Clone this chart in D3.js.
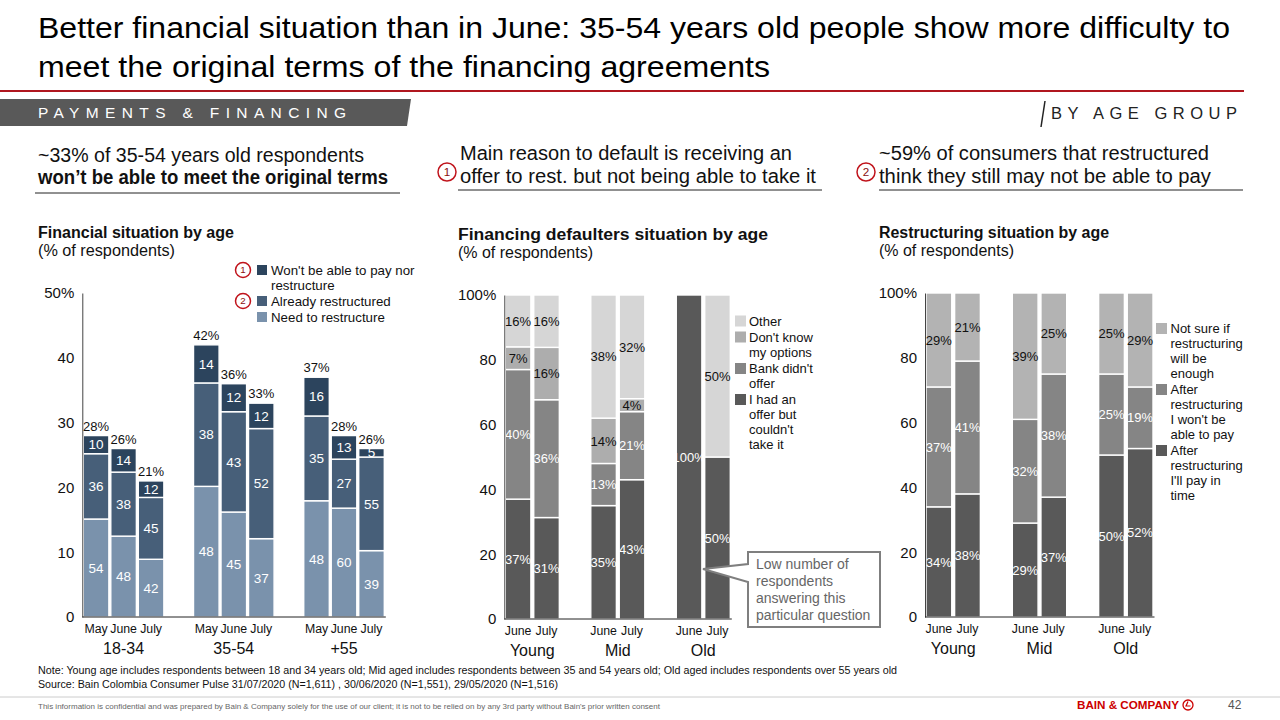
<!DOCTYPE html>
<html><head><meta charset="utf-8">
<script src="https://cdn.jsdelivr.net/npm/d3@7/dist/d3.min.js"></script>
<style>
body{margin:0;background:#fff;}
svg{display:block;font-family:"Liberation Sans",Arial,sans-serif;}
</style></head>
<body>
<svg id="c" width="1280" height="720"></svg>
<script>
// ---------- DATA ----------
const titleLines = ["Better financial situation than in June: 35-54 years old people show more difficulty to",
                    "meet the original terms of the financing agreements"];
// Left chart: Financial situation by age
const leftGroups = ["18-34", "35-54", "+55"];
const leftMonths = ["May", "June", "July"];
const leftTotals = [[28, 26, 21], [42, 36, 33], [37, 28, 26]];
const leftNeed = [[54, 48, 42], [48, 45, 37], [48, 60, 39]];
const leftAlready = [[36, 38, 45], [38, 43, 52], [35, 27, 55]];
const leftWont = [[10, 14, 12], [14, 12, 12], [16, 13, 5]];
const leftTicks = [0, 10, 20, 30, 40, 50];

// Middle chart: Financing defaulters situation by age
const ageGroups = ["Young", "Mid", "Old"];
const months2 = ["June", "July"];
const midHadOffer = [[37, 31], [35, 43], [100, 50]];
const midBankDidnt = [[40, 36], [13, 21], [0, 0]];
const midDontKnow = [[7, 16], [14, 4], [0, 0]];
const midOther = [[16, 16], [38, 32], [0, 50]];
const pctTicks = [0, 20, 40, 60, 80, 100];

// Right chart: Restructuring situation by age
const rightPayTime = [[34, 38], [29, 37], [50, 52]];
const rightWontPay = [[37, 41], [32, 38], [25, 19]];
const rightNotSure = [[29, 21], [39, 25], [25, 29]];

// ---------- DRAW ----------
const svg = d3.select("#c");
const RED = "#b0171f";

function txt(x, y, size, t, o = {}) {
  const e = svg.append("text").attr("x", x).attr("y", y).attr("font-size", size).attr("fill", o.fill || "#111").text(t);
  if (o.bold) e.attr("font-weight", "bold");
  if (o.len) e.attr("textLength", o.len).attr("lengthAdjust", o.adjust || "spacingAndGlyphs");
  if (o.anchor) e.attr("text-anchor", o.anchor);
  return e;
}

// Title
txt(38, 38, 30, titleLines[0], { fill: "#000", len: 1192 });
txt(38, 77, 30, titleLines[1], { fill: "#000", len: 732 });
svg.append("line").attr("x1", 0).attr("x2", 1244).attr("y1", 91).attr("y2", 91).attr("stroke", RED).attr("stroke-width", 2);

// Banner
svg.append("path").attr("d", "M0,99 L411,99 L407,126 L0,126 Z").attr("fill", "#595959");
txt(38, 118, 15.5, "PAYMENTS & FINANCING", { fill: "#fff", len: 308, adjust: "spacing" });
svg.append("line").attr("x1", 1045).attr("y1", 101).attr("x2", 1041).attr("y2", 127).attr("stroke", "#222").attr("stroke-width", 1.5);
txt(1051, 119, 16.5, "BY AGE GROUP", { fill: "#222", len: 186, adjust: "spacing" });

function circleNum(x, y, r, n) {
  svg.append("circle").attr("cx", x).attr("cy", y).attr("r", r).attr("fill", "#fff").attr("stroke", "#c0141c").attr("stroke-width", 1.5);
  svg.append("text").attr("x", x).attr("y", y + r * 0.45).attr("text-anchor", "middle").attr("font-size", r * 1.3)
    .attr("fill", "#8a1010").text(n);
}

// Section headers
txt(38, 162, 20, "~33% of 35-54 years old respondents", { len: 326 });
txt(38, 184, 20, "won\u2019t be able to meet the original terms", { bold: true, len: 350 });
svg.append("line").attr("x1", 35).attr("x2", 400).attr("y1", 193).attr("y2", 193).attr("stroke", "#222").attr("stroke-width", 1);

txt(460, 160, 20, "Main reason to default is receiving an", { len: 332 });
txt(460, 183, 20, "offer to rest. but not being able to take it", { len: 356 });
svg.append("line").attr("x1", 458).attr("x2", 822).attr("y1", 190).attr("y2", 190).attr("stroke", "#222").attr("stroke-width", 1);
circleNum(447, 172, 9, "1");

txt(879, 160, 20, "~59% of consumers that restructured", { len: 330 });
txt(879, 183, 20, "think they still may not be able to pay", { len: 332 });
svg.append("line").attr("x1", 879).attr("x2", 1243).attr("y1", 190).attr("y2", 190).attr("stroke", "#222").attr("stroke-width", 1);
circleNum(866, 172, 9, "2");

// Chart titles
txt(38, 238, 16, "Financial situation by age", { bold: true, len: 196 });
txt(38, 256, 16, "(% of respondents)", { len: 137 });
txt(458, 240, 16, "Financing defaulters situation by age", { bold: true, len: 310 });
txt(458, 258, 16, "(% of respondents)", { len: 135 });
txt(879, 238, 16, "Restructuring situation by age", { bold: true, len: 230 });
txt(879, 256, 16, "(% of respondents)", { len: 135 });

// Generic stacked chart builder
function stackedChart(opt) {
  const g = svg.append("g");
  const y = d3.scaleLinear().domain([0, opt.ymax]).range([opt.y0, opt.y1]);
  const xg = d3.scaleBand().domain(opt.groups).range(opt.xr).paddingInner(opt.pGroup).paddingOuter(0);
  const xs = d3.scaleBand().domain(opt.subs).range([0, xg.bandwidth()]).paddingInner(opt.pSub).paddingOuter(0);

  opt.groups.forEach((grp, gi) => {
    opt.subs.forEach((sub, si) => {
      const vals = opt.series.map(s => s.values[gi][si]);
      const sum = d3.sum(vals);
      const total = opt.totals ? opt.totals[gi][si] : 100;
      let acc = 0;
      const x0 = xg(grp) + xs(sub);
      vals.forEach((v, k) => {
        if (v <= 0) return;
        const h0 = acc, h1 = acc + v / sum * total;
        acc = h1;
        g.append("rect").attr("x", x0).attr("width", xs.bandwidth())
          .attr("y", y(h1)).attr("height", y(h0) - y(h1))
          .attr("fill", opt.series[k].color).attr("stroke", "#fff").attr("stroke-width", 1.4);
        g.append("text").attr("x", x0 + xs.bandwidth() / 2).attr("y", (y(h0) + y(h1)) / 2 + 4.7)
          .attr("text-anchor", "middle").attr("font-size", opt.labelSize).attr("fill", opt.series[k].textColor)
          .text(opt.fmt(v));
      });
      if (opt.totals) {
        g.append("text").attr("x", x0 + xs.bandwidth() / 2).attr("y", y(total) - 5)
          .attr("text-anchor", "middle").attr("font-size", 13).attr("fill", "#111").text(total + "%");
      }
      g.append("text").attr("x", x0 + xs.bandwidth() / 2).attr("y", opt.y0 + 16)
        .attr("text-anchor", "middle").attr("font-size", 12.3).attr("fill", "#111").text(sub);
    });
    g.append("text").attr("x", xg(grp) + xg.bandwidth() / 2).attr("y", opt.y0 + 37)
      .attr("text-anchor", "middle").attr("font-size", 16).attr("fill", "#111").text(grp);
  });

  const ax = g.append("g").attr("transform", `translate(${opt.xr[0] - 1},0)`)
    .call(d3.axisLeft(y).tickValues(opt.ticks).tickSize(0).tickPadding(8)
      .tickFormat(d => d === opt.ymax ? d + "%" : d));
  ax.select(".domain").attr("stroke", "#444");
  ax.selectAll("text").attr("font-size", 15).attr("fill", "#111").attr("font-family", "Liberation Sans, Arial, sans-serif");
  g.append("line").attr("x1", opt.xr[0] - 1).attr("x2", opt.xr[1] + 1.5).attr("y1", opt.y0).attr("y2", opt.y0)
    .attr("stroke", "#222").attr("stroke-width", 1);
  return g;
}

// Left chart
const cWont = "#2c445d", cAlready = "#475f79", cNeed = "#7a92ac";
stackedChart({
  groups: leftGroups, subs: leftMonths, ymax: 50, ticks: leftTicks,
  y0: 617, y1: 293, xr: [83.3, 384.3], pGroup: 0.269, pSub: 0.07,
  totals: leftTotals, labelSize: 13.5, fmt: v => v,
  series: [
    { values: leftNeed, color: cNeed, textColor: "#fff" },
    { values: leftAlready, color: cAlready, textColor: "#fff" },
    { values: leftWont, color: cWont, textColor: "#fff" }
  ]
});
// Left legend
const leftLegend = [
  { lines: ["Won't be able to pay nor", "restructure"], color: cWont, y: 270, num: "1" },
  { lines: ["Already restructured"], color: cAlready, y: 301, num: "2" },
  { lines: ["Need to restructure"], color: cNeed, y: 317, num: null }
];
leftLegend.forEach(d => {
  svg.append("rect").attr("x", 257).attr("y", d.y - 5).attr("width", 10).attr("height", 10).attr("fill", d.color);
  d.lines.forEach((l, i) => txt(271, d.y + 5 + i * 15, 13.3, l));
  if (d.num) circleNum(243, d.y, 7.5, d.num);
});

// Middle chart
const m1 = "#595959", m2 = "#858585", m3 = "#adadad", m4 = "#d6d6d6";
stackedChart({
  groups: ageGroups, subs: months2, ymax: 100, ticks: pctTicks,
  y0: 619, y1: 295, xr: [505.3, 730.3], pGroup: 0.368, pSub: 0.1,
  totals: null, labelSize: 13, fmt: v => v + "%",
  series: [
    { values: midHadOffer, color: m1, textColor: "#fff" },
    { values: midBankDidnt, color: m2, textColor: "#fff" },
    { values: midDontKnow, color: m3, textColor: "#111" },
    { values: midOther, color: m4, textColor: "#111" }
  ]
});
const midLegend = [
  { lines: ["Other"], color: m4, y: 321 },
  { lines: ["Don't know", "my options"], color: m3, y: 337 },
  { lines: ["Bank didn't", "offer"], color: m2, y: 368.5 },
  { lines: ["I had an", "offer but", "couldn't", "take it"], color: m1, y: 399.5 }
];
midLegend.forEach(d => {
  svg.append("rect").attr("x", 735).attr("y", d.y - 5.5).attr("width", 11).attr("height", 11).attr("fill", d.color);
  d.lines.forEach((l, i) => txt(749, d.y + 4.5 + i * 15, 13, l));
});
// Callout
svg.append("path").attr("d", "M748,552 H880 V627 H748 V582 L703,569 L748,564 Z")
  .attr("fill", "#fff").attr("stroke", "#7f7f7f").attr("stroke-width", 2);
["Low number of", "respondents", "answering this", "particular question"].forEach((l, i) =>
  txt(756, 569 + i * 17, 14, l, { fill: "#666" }));

// Right chart
const r1 = "#595959", r2 = "#858585", r3 = "#b3b3b3";
stackedChart({
  groups: ageGroups, subs: months2, ymax: 100, ticks: pctTicks,
  y0: 617, y1: 293, xr: [926, 1153], pGroup: 0.37, pSub: 0.1,
  totals: null, labelSize: 13, fmt: v => v + "%",
  series: [
    { values: rightPayTime, color: r1, textColor: "#fff" },
    { values: rightWontPay, color: r2, textColor: "#fff" },
    { values: rightNotSure, color: r3, textColor: "#111" }
  ]
});
const rightLegend = [
  { lines: ["Not sure if", "restructuring", "will be", "enough"], color: r3, y: 328.5 },
  { lines: ["After", "restructuring", "I won't be", "able to pay"], color: r2, y: 389.5 },
  { lines: ["After", "restructuring", "I'll pay in", "time"], color: r1, y: 450.5 }
];
rightLegend.forEach(d => {
  svg.append("rect").attr("x", 1156).attr("y", d.y - 5.5).attr("width", 11).attr("height", 11).attr("fill", d.color);
  d.lines.forEach((l, i) => txt(1170.5, d.y + 4.5 + i * 15, 13, l));
});

// Footnotes
txt(38, 674, 10, "Note: Young age includes respondents between 18 and 34 years old; Mid aged includes respondents between 35 and 54 years old; Old aged includes respondents over 55 years old", { len: 859 });
txt(38, 688, 10, "Source: Bain Colombia Consumer Pulse 31/07/2020 (N=1,611) , 30/06/2020 (N=1,551), 29/05/2020 (N=1,516)", { len: 520 });
svg.append("line").attr("x1", 0).attr("x2", 1280).attr("y1", 697).attr("y2", 697).attr("stroke", "#ccc").attr("stroke-width", 1);
txt(38, 709, 7, "This information is confidential and was prepared by Bain & Company solely for the use of our client; it is not to be relied on by any 3rd party without Bain's prior written consent", { fill: "#666", len: 622 });
txt(1077, 709, 10, "BAIN & COMPANY", { bold: true, fill: "#cc0000", len: 102 });
svg.append("circle").attr("cx", 1188).attr("cy", 705).attr("r", 5).attr("fill", "none").attr("stroke", "#cc0000").attr("stroke-width", 1.3);
svg.append("path").attr("d", "M1188,701.5 L1186,706 L1190.5,706").attr("fill", "none").attr("stroke", "#cc0000").attr("stroke-width", 1.2);
txt(1228, 709, 12, "42", { fill: "#555" });
</script>
</body></html>
